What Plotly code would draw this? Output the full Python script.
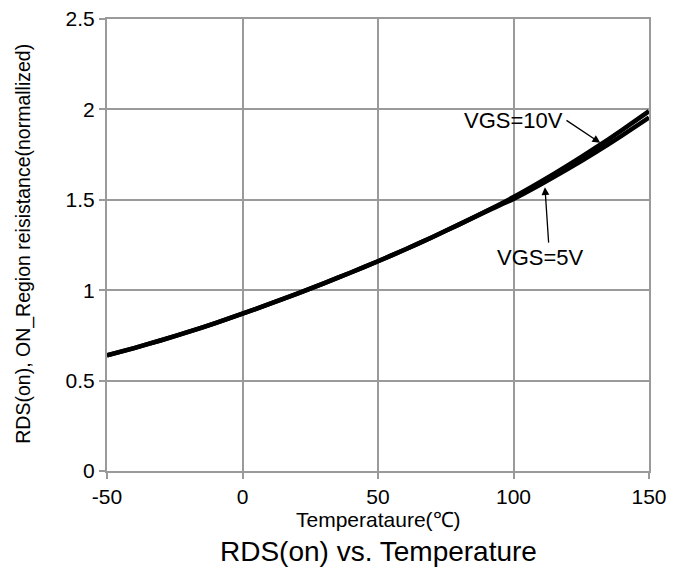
import plotly.graph_objects as go

temps = [-50, -40, -30, -20, -10, 0, 10, 20, 30, 40, 50, 60, 70, 80, 90, 100, 110, 120, 130, 140, 150]
rds_10v = [0.64, 0.68, 0.723, 0.769, 0.818, 0.87, 0.924, 0.98, 1.038, 1.098, 1.16, 1.225, 1.293, 1.364, 1.438, 1.515, 1.60, 1.69, 1.785, 1.885, 1.99]
rds_5v = [0.64, 0.68, 0.723, 0.769, 0.818, 0.87, 0.924, 0.98, 1.038, 1.098, 1.16, 1.225, 1.293, 1.364, 1.436, 1.505, 1.585, 1.67, 1.76, 1.855, 1.955]

x_ticks = [-50, 0, 50, 100, 150]
x_tick_labels = ["-50", "0", "50", "100", "150"]
y_ticks = [0, 0.5, 1, 1.5, 2, 2.5]
y_tick_labels = ["0", "0.5", "1", "1.5", "2", "2.5"]

fig = go.Figure()
fig.add_trace(go.Scatter(x=temps, y=rds_5v, mode="lines", line=dict(color="black", width=4.5, shape="spline", smoothing=0.5), name="VGS=5V"))
fig.add_trace(go.Scatter(x=temps, y=rds_10v, mode="lines", line=dict(color="black", width=4.5, shape="spline", smoothing=0.5), name="VGS=10V"))

font = "Liberation Sans, Arial, sans-serif"
axis_common = dict(showgrid=True, gridcolor="#9a9a9a", gridwidth=2, showline=True, linecolor="#9a9a9a", linewidth=2,
                   ticks="outside", ticklen=6, tickwidth=2, tickcolor="#9a9a9a", zeroline=False, automargin=False,
                   tickfont=dict(family=font, size=21, color="black"))

fig.update_layout(
    width=688, height=569,
    margin=dict(l=107, r=39, t=19, b=98, autoexpand=False),
    paper_bgcolor="white", plot_bgcolor="white",
    showlegend=False,
    font=dict(family=font, color="black"),
    xaxis=dict(range=[-50, 150], tickvals=x_ticks, ticktext=x_tick_labels, mirror=True, **axis_common),
    yaxis=dict(range=[0, 2.5], tickvals=y_ticks, ticktext=y_tick_labels, mirror=True, **axis_common),
)

fig.add_annotation(x=100, y=1.94, xref="x", yref="y", text="VGS=10V", showarrow=False,
                   font=dict(family=font, size=22, color="black"))
fig.add_annotation(x=132, y=1.815, ax=119, ay=1.945, xref="x", yref="y", axref="x", ayref="y",
                   text="", showarrow=True, arrowhead=2, arrowsize=1.2, arrowwidth=1.3, arrowcolor="black")
fig.add_annotation(x=110, y=1.18, xref="x", yref="y", text="VGS=5V", showarrow=False,
                   font=dict(family=font, size=22, color="black"))
fig.add_annotation(x=111.6, y=1.57, ax=113, ay=1.255, xref="x", yref="y", axref="x", ayref="y",
                   text="", showarrow=True, arrowhead=2, arrowsize=1.2, arrowwidth=1.3, arrowcolor="black")

# axis titles and chart title as positioned text
fig.add_annotation(x=0.5, y=-0.1084, xref="paper", yref="paper", yanchor="middle", text="Temperataure(℃)",
                   showarrow=False, font=dict(family=font, size=21, color="black"))
fig.add_annotation(x=-0.153, y=0.503, xref="paper", yref="paper", xanchor="center", yanchor="middle",
                   text="RDS(on), ON_Region reisistance(normallized)", textangle=-90,
                   showarrow=False, font=dict(family=font, size=19.5, color="black"))
fig.add_annotation(x=0.5, y=-0.179, xref="paper", yref="paper", yanchor="middle", text="RDS(on) vs. Temperature",
                   showarrow=False, font=dict(family=font, size=28, color="black"))

fig.write_html("out.html")
